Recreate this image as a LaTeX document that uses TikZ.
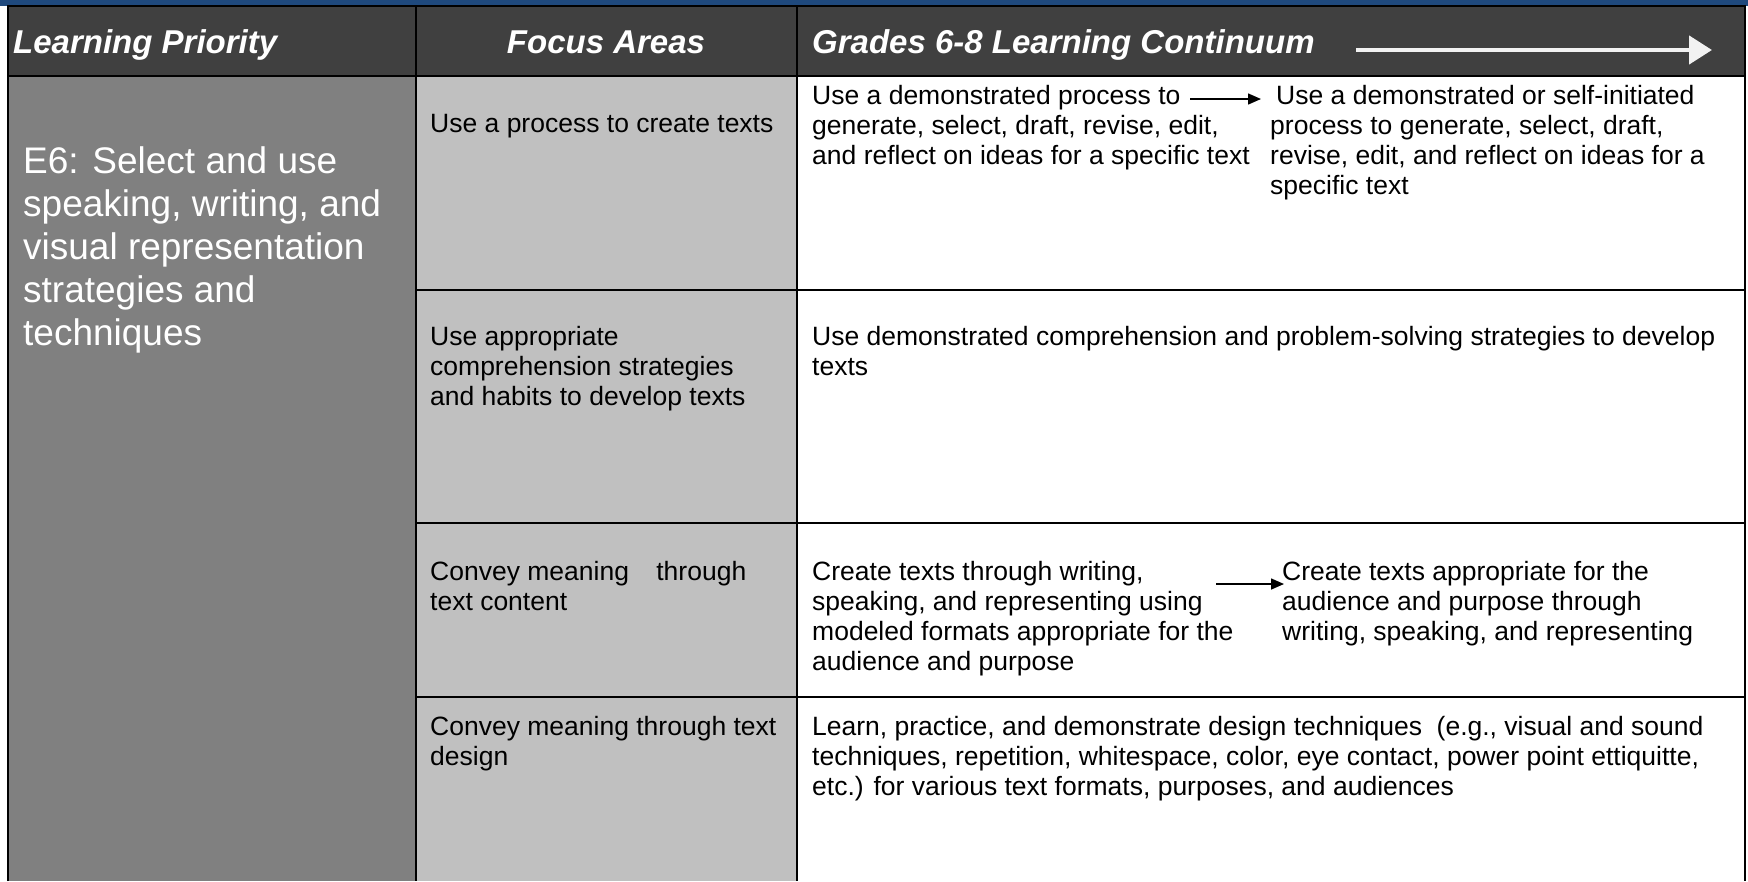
\documentclass[tikz,border=0pt]{standalone}
\usepackage{fontspec}
\setmainfont{Liberation Sans}
\usetikzlibrary{arrows.meta}

\definecolor{bandblue}{RGB}{31,73,125}
\definecolor{headgrey}{RGB}{64,64,64}
\definecolor{priogrey}{RGB}{128,128,128}
\definecolor{focusgrey}{RGB}{192,192,192}
\definecolor{arrowwhite}{RGB}{242,242,242}

\begin{document}
\begin{tikzpicture}[x=1pt,y=-1pt,
  headtext/.style={anchor=base west,inner sep=0,text=white,
    font=\fontsize{33}{38}\selectfont\bfseries\itshape},
  celltext/.style={anchor=north west,inner sep=0,align=left,
    font=\fontsize{26.5}{30}\selectfont},
  priotext/.style={anchor=north west,inner sep=0,align=left,text=white,
    font=\fontsize{37}{43}\selectfont},
  rule/.style={line width=2},
  border/.style={line width=2.5},
  stagearrow/.style={line width=1.5,-{Triangle[length=13pt,width=11pt]}}]
\useasboundingbox (0,0) rectangle (1748,881);

% backgrounds
\fill[bandblue] (0,0) rectangle (1748,6);
\fill[headgrey] (8,6) rectangle (1745,76);
\fill[priogrey] (8,76) rectangle (416,881);
\fill[focusgrey] (416,76) rectangle (797,881);

% table lines
\draw[border] (8,881) -- (8,6) -- (1745,6) -- (1745,881);
\draw[border] (8,76) -- (1745,76);
\draw[rule] (416,6) -- (416,881);
\draw[rule] (797,6) -- (797,881);
\draw[rule] (416,290) -- (1745,290);
\draw[rule] (416,523) -- (1745,523);
\draw[rule] (416,697) -- (1745,697);

% header
\node[headtext] (hprio) at (13,53) {Learning Priority};
\node[headtext,anchor=base] (hfocus) at (606,53) {Focus Areas};
\node[headtext] (hgrades) at (812,53) {Grades 6-8 Learning Continuum};
\coordinate (hs) at (1356,50);
\coordinate (he) at (1712,50);
\draw[arrowwhite,line width=4.6,-{Triangle[length=23pt,width=28pt]}] (hs) -- (he);

% learning priority
\node[priotext] (prio) at (23,143) {\strut E6: Select and use\\speaking, writing, and\\visual representation\\strategies and\\techniques};

% focus areas
\node[celltext] (f1) at (430,111) {\strut Use a process to create texts};
\node[celltext] (f2) at (430,324) {\strut Use appropriate\\comprehension strategies\\and habits to develop texts};
\node[celltext] (f3) at (430,559) {\strut Convey meaning\hspace{20pt} through\\text content};
\node[celltext] (f4) at (430,714) {\strut Convey meaning through text\\design};

% continuum
\node[celltext] (c1a) at (812,83) {\strut Use a demonstrated process to\\generate, select, draft, revise, edit,\\and reflect on ideas for a specific text};
\node[celltext] (c1b) at (1270,83) {\strut\hspace{6pt}Use a demonstrated or self-initiated\\process to generate, select, draft,\\revise, edit, and reflect on ideas for a\\specific text};
\coordinate (a1s) at (1190,99);
\coordinate (a1e) at (1261,99);
\draw[stagearrow] (a1s) -- (a1e);

\node[celltext] (c2) at (812,324) {\strut Use demonstrated comprehension and problem-solving strategies to develop\\texts};

\node[celltext] (c3a) at (812,559) {\strut Create texts through writing,\\speaking, and representing using\\modeled formats appropriate for the\\audience and purpose};
\node[celltext] (c3b) at (1282,559) {\strut Create texts appropriate for the\\audience and purpose through\\writing, speaking, and representing};
\coordinate (a3s) at (1216,584);
\coordinate (a3e) at (1284,584);
\draw[stagearrow] (a3s) -- (a3e);

\node[celltext] (c4) at (812,714) {\strut Learn, practice, and demonstrate design techniques\ \ (e.g., visual and sound\\techniques, repetition, whitespace, color, eye contact, power point ettiquitte,\\etc.) for various text formats, purposes, and audiences};
\end{tikzpicture}
\end{document}
